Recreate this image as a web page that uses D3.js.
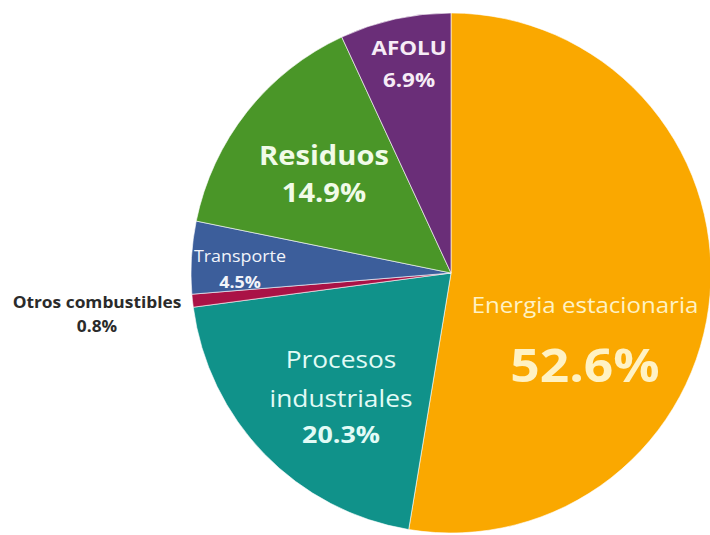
<!DOCTYPE html>
<html>
<head>
<meta charset="utf-8">
<script src="https://cdn.jsdelivr.net/npm/d3@7"></script>
<style>
  body { margin: 0; background: #fff; }
  svg { display: block; font-family: 'Open Sans', sans-serif; }
</style>
</head>
<body>
<div id="chart"></div>
<script>
// data
const categories = ['Energia estacionaria', 'Procesos industriales', 'Otros combustibles', 'Transporte', 'Residuos', 'AFOLU'];
const shares = [52.6, 20.3, 0.8, 4.5, 14.9, 6.9];
const sliceColors = ['#FAA800', '#10928A', '#AA1246', '#3C5E9B', '#4A9628', '#6A2E78'];

const width = 710, height = 535;
const cx = 451, cy = 273, radius = 260;
// the text in the source is a bit stretched sideways
const stretch = 1.12;

// label layout: lines, offset of first baseline from the pie centre, line gap
const labelLayout = [
  {lines: [['Energia estacionaria', 21.5, 400], ['52.6%', 46, 700]], dx: 134, dy: 40, gaps: [69], fill: '#FFF2C4'},
  {lines: [['Procesos', 23.5, 400], ['industriales', 23.5, 400], ['20.3%', 24, 700]], dx: -110, dy: 95, gaps: [39, 36], fill: '#E2FBF6'},
  {lines: [['Otros combustibles', 15.5, 700], ['0.8%', 15.5, 700]], dx: -354, dy: 35, gaps: [24], fill: '#2b2b2b'},
  {lines: [['Transporte', 16, 400], ['4.5%', 16, 700]], dx: -211, dy: -11, gaps: [26], fill: '#F2F4FA'},
  {lines: [['Residuos', 26, 700], ['14.9%', 26, 700]], dx: -127, dy: -108, gaps: [37], fill: '#F1FBE8'},
  {lines: [['AFOLU', 20, 700], ['6.9%', 20, 700]], dx: -42, dy: -218, gaps: [32], fill: '#F6ECF6'}
];

const data = categories.map((c, i) => ({name: c, value: shares[i], color: sliceColors[i], label: labelLayout[i]}));

const svg = d3.select('#chart')
  .append('svg')
  .attr('width', width)
  .attr('height', height);

const g = svg.append('g')
  .attr('transform', `translate(${cx},${cy})`);

const pie = d3.pie()
  .sort(null)
  .value(d => d.value);

const arc = d3.arc()
  .innerRadius(0)
  .outerRadius(radius);

g.selectAll('path')
  .data(pie(data))
  .enter()
  .append('path')
  .attr('d', arc)
  .attr('fill', d => d.data.color)
  .attr('stroke', '#fff')
  .attr('stroke-width', 0.6);

// labels
const labels = g.selectAll('.lbl')
  .data(data)
  .enter()
  .append('text')
  .attr('class', 'lbl')
  .attr('text-anchor', 'middle')
  .attr('transform', d => `translate(${d.label.dx},0) scale(${stretch},1)`)
  .attr('fill', d => d.label.fill);

labels.each(function (d) {
  const t = d3.select(this);
  let y = d.label.dy;
  d.label.lines.forEach((ln, i) => {
    if (i > 0) y += d.label.gaps[i - 1];
    t.append('tspan')
      .attr('x', 0)
      .attr('y', y)
      .attr('font-size', ln[1])
      .attr('font-weight', ln[2])
      .text(ln[0]);
  });
});
</script>
</body>
</html>
